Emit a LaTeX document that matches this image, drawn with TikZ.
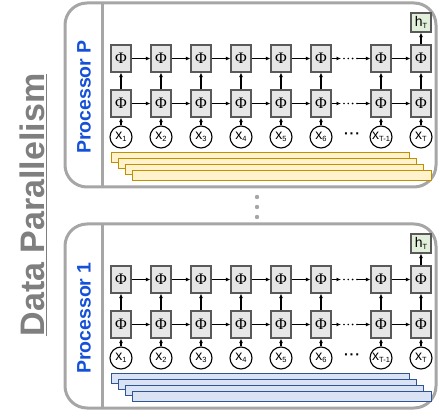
\documentclass[tikz,border=0pt]{standalone}
\usepackage{fontspec}
\setmainfont{Liberation Sans}
\newfontfamily\phifont{Liberation Serif}
\usetikzlibrary{arrows.meta}
\definecolor{framegray}{HTML}{A6A6A6}
\definecolor{titlegray}{HTML}{7F7F7F}
\definecolor{cellgray}{HTML}{E6E6E6}
\definecolor{cellborder}{HTML}{595959}
\definecolor{procblue}{HTML}{1550D8}
\definecolor{outgreen}{HTML}{E2EFDA}
\definecolor{yelfill}{HTML}{FFF2CC}
\definecolor{yeldraw}{HTML}{BF9000}
\definecolor{bluefill}{HTML}{DAE3F3}
\definecolor{bluedraw}{HTML}{2F5597}
\newcommand{\lowsub}[1]{\raisebox{-2.5pt}{\fontsize{7.5}{7.5}\selectfont #1}}

\begin{document}
\begin{tikzpicture}[x=1pt, y=-1pt, line width=1.1pt, >={Latex[length=4.5pt,width=4pt]}]
    \tikzstyle{cell}=[rectangle, draw=cellborder, fill=cellgray, minimum width=20pt, minimum height=27pt, inner sep=0pt, font=\phifont\fontsize{16}{16}\selectfont]
    \tikzstyle{input}=[circle, draw=black, fill=white, minimum size=22pt, inner sep=0pt, font=\fontsize{14}{14}\selectfont]
    \tikzstyle{output}=[rectangle, draw=cellborder, fill=outgreen, minimum width=20pt, minimum height=19pt, inner sep=0pt, font=\fontsize{14}{14}\selectfont]
    \tikzstyle{panel}=[draw=framegray, line width=3pt, rounded corners=22pt]
    \tikzstyle{proc}=[rotate=90, text=procblue, inner sep=0pt, font=\bfseries\fontsize{19.5}{19.5}\selectfont]
    \tikzstyle{gapdots}=[line width=1.8pt, line cap=round, dash pattern=on 0pt off 4.3pt]
    \useasboundingbox (0,0) rectangle (438,411);

    \node[rotate=90, text=titlegray, inner sep=0pt, font=\bfseries\fontsize{34}{34}\selectfont] (title) at (33,205) {\underline{Data Parallelism}};

    \foreach \p/\off/\lab/\bfill/\bdraw in {P/0/Processor P/yelfill/yeldraw, 1/221/Processor 1/bluefill/bluedraw} {
    \begin{scope}[shift={(0,\off)}]
    \draw[panel] (65,3) rectangle (436,187);
    \draw[framegray, line width=3pt] (102,3) -- (102,187);
    \node[proc] (\p-name) at (84,97) {\lab};

    \foreach \k in {0,...,3}
    \draw[fill=\bfill, draw=\bdraw, line width=0.8pt] (111+7*\k,152+6*\k) rectangle (409+7.4*\k,162+6*\k);

    \foreach \i/\x/\s in {1/121/1, 2/161/2, 3/201/3, 4/241/4, 5/281/5, 6/321/6, 7/381/T-1, 8/421/T} {
    \node[input] (\p-x-\i) at (\x,137) {x\lowsub{\s}};
    \node[cell] (\p-lo-\i) at (\x,103.5) {Φ};
    \node[cell] (\p-hi-\i) at (\x,58.5) {Φ};
    \draw[->] (\p-x-\i) -- (\p-lo-\i);
    \draw[->] (\p-lo-\i) -- (\p-hi-\i);
    }

    \foreach \from/\to in {1/2, 2/3, 3/4, 4/5, 5/6, 7/8} {
    \draw[->] (\p-lo-\from) -- (\p-lo-\to);
    \draw[->] (\p-hi-\from) -- (\p-hi-\to);
    }
    \foreach \row/\y in {lo/103.5, hi/58.5} {
    \coordinate (\p-\row-a) at (341,\y);
    \coordinate (\p-\row-b) at (344,\y);
    \coordinate (\p-\row-c) at (357,\y);
    \draw[->] (\p-\row-6) -- (\p-\row-a);
    \draw[gapdots] (\p-\row-b) -- (\p-\row-c);
    \draw[->] (\p-\row-c) -- (\p-\row-7);
    }
    \node[font=\bfseries\fontsize{14}{14}\selectfont] (\p-xdots) at (352,136) {·\kern1pt·\kern1pt·};

    \node[output] (\p-h) at (421,22.5) {h\lowsub{T}};
    \draw[->] (\p-hi-8) -- (\p-h);
    \end{scope}
    }

    \foreach \y in {197, 207, 217}
    \fill[framegray] (257,\y) circle (2.2pt);
\end{tikzpicture}
\end{document}
